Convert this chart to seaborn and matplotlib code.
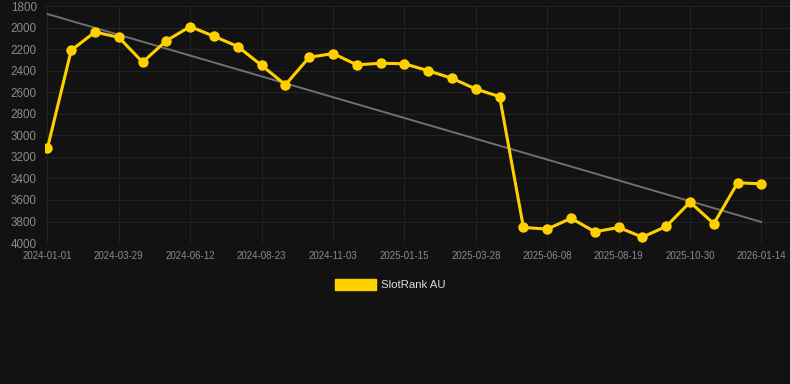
import numpy as np
import pandas as pd
import matplotlib
matplotlib.use("Agg")
import matplotlib.pyplot as plt
import matplotlib.patches as mpatches
import seaborn as sns

# -----------------------------
# DATA
# -----------------------------
dates = [
    "2024-01-01", "2024-01-30", "2024-02-28", "2024-03-29", "2024-04-23",
    "2024-05-18", "2024-06-12", "2024-07-06", "2024-07-30", "2024-08-23",
    "2024-09-16", "2024-10-10", "2024-11-03", "2024-11-27", "2024-12-22",
    "2025-01-15", "2025-02-08", "2025-03-04", "2025-03-28", "2025-04-21",
    "2025-05-15", "2025-06-08", "2025-07-02", "2025-07-26", "2025-08-19",
    "2025-09-12", "2025-10-06", "2025-10-30", "2025-11-24", "2025-12-19",
    "2026-01-14",
]
rank = [
    3120, 2210, 2040, 2090, 2320, 2120, 1990, 2080, 2175, 2350,
    2530, 2275, 2240, 2345, 2330, 2335, 2400, 2470, 2570, 2640,
    3855, 3870, 3770, 3895, 3855, 3945, 3845, 3620, 3820, 3440,
    3450,
]
series_name = "SlotRank AU"

df = pd.DataFrame({"date": dates, "rank": rank})
df["idx"] = np.arange(len(df))

# trend line (least squares)
slope, intercept = np.polyfit(df["idx"], df["rank"], 1)
df["trend"] = intercept + slope * df["idx"]

# -----------------------------
# STYLE
# -----------------------------
bg = "#121212"
sns.set_style("dark", {
    "axes.facecolor": bg,
    "figure.facecolor": bg,
    "grid.color": "#222222",
    "axes.edgecolor": bg,
})
plt.rcParams["font.family"] = ["Liberation Sans", "DejaVu Sans"]

fig = plt.figure(figsize=(7.9, 3.84), dpi=100)
ax = fig.add_axes([0.057, 0.367, 0.943, 0.617])

sns.lineplot(data=df, x="idx", y="trend", ax=ax, color="#707070",
             linewidth=1.4, zorder=2)
sns.lineplot(data=df, x="idx", y="rank", ax=ax, color="#FFD000",
             linewidth=2.2, marker="o", markersize=7.5,
             markeredgewidth=0, zorder=3)

ax.set_ylim(4000, 1800)
ax.set_yticks(np.arange(1800, 4001, 200))
ax.set_xlim(-0.1, 31.2)
tick_idx = list(range(0, len(dates), 3))
ax.set_xticks(tick_idx)
ax.set_xticklabels([dates[i] for i in tick_idx])

ax.grid(True, color="#222222", linewidth=0.8)
ax.tick_params(axis="y", colors="#8a8a8a", labelsize=8.4, length=0, pad=6)
ax.tick_params(axis="x", colors="#8a8a8a", labelsize=7, length=0, pad=6)
ax.set_xlabel("")
ax.set_ylabel("")
for s in ax.spines.values():
    s.set_visible(False)

handle = mpatches.Patch(color="#FFD000", label=series_name)
fig.legend(handles=[handle], loc="center", bbox_to_anchor=(0.494, 0.258),
           frameon=False, handlelength=3.6, handleheight=1.0,
           fontsize=8.2, labelcolor="#dddddd", handletextpad=0.5)

fig.savefig("out.png", dpi=100, facecolor=bg)
